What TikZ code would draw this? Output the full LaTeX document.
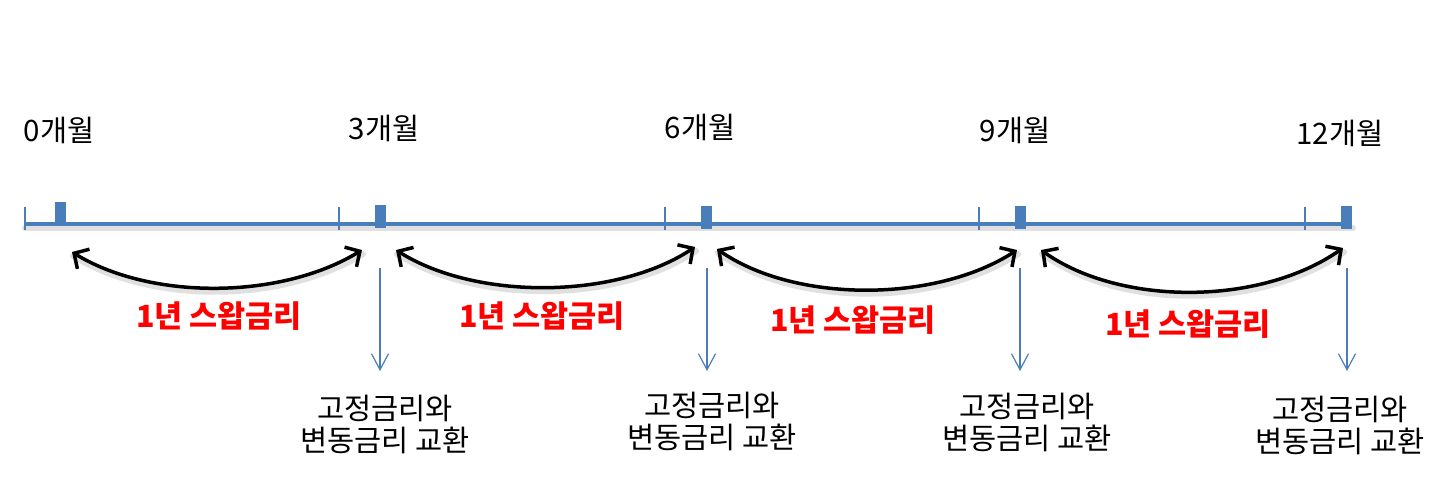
\documentclass[tikz,border=0pt]{standalone}
\usepackage{fontspec}
\setmainfont{Noto Sans CJK KR}
\usetikzlibrary{arrows.meta}
\definecolor{barblue}{HTML}{4A7EBB}
\definecolor{swapred}{HTML}{FF0000}
\tikzset{
  bar/.style={draw=barblue, line width=4.5pt},
  tick/.style={draw=barblue, line width=1.2pt},
  marker/.style={fill=barblue, draw=none, minimum width=11pt, minimum height=23pt, inner sep=0pt},
  swaparrow/.style={draw=black, line width=3.5pt, line cap=round, {Straight Barb[length=11pt,width=23pt,line width=3.5pt]}-{Straight Barb[length=11pt,width=23pt,line width=3.5pt]}},
  shadowpath/.style={draw=black, opacity=0.12, line width=6pt, line cap=round, transform canvas={shift={(1pt,-4pt)}}},
  downarrow/.style={draw=barblue, line width=1.2pt, -{Straight Barb[length=16pt,width=17pt,line width=1.2pt]}},
  month/.style={font=\fontsize{29.5}{34}\selectfont, inner sep=0pt},
  swaplabel/.style={font=\fontsize{30.5}{34}\selectfont\bfseries, text=swapred, inner sep=0pt},
  exch/.style={font=\fontsize{29.5}{32}\selectfont, align=center, inner sep=0pt},
}
\begin{document}
\begin{tikzpicture}[x=1pt,y=-1pt]
\useasboundingbox (0,0) rectangle (1446,478);
% bar
\coordinate (barL) at (24,224);
\coordinate (barR) at (1352,224);
\draw[shadowpath] (barL) -- (barR);
\draw[bar] (barL) -- (barR);
% ticks
\foreach \x/\n in {25/t0,339/t1,665/t2,979/t3,1305/t4}{
  \coordinate (\n a) at (\x,207);
  \coordinate (\n b) at (\x,230);
  \draw[tick] (\n a) -- (\n b);
}
% markers
\node[marker] (m0) at (60,213.5) {};
\node[marker] (m3) at (380,217) {};
\node[marker] (m6) at (706,217.5) {};
\node[marker] (m9) at (1020,217.5) {};
\node[marker] (m12) at (1346,217.5) {};
% month labels
\node[month] (l0) at (59,130) {0개월};
\node[month] (l3) at (384,128) {3개월};
\node[month] (l6) at (700,127) {6개월};
\node[month] (l9) at (1015,130) {9개월};
\node[month] (l12) at (1340,133) {12개월};
% swap arrows
\coordinate (a1s) at (72,252); \coordinate (a1e) at (362,250);
\coordinate (a2s) at (396,250); \coordinate (a2e) at (695,247);
\coordinate (a3s) at (717,249); \coordinate (a3e) at (1017,250);
\coordinate (a4s) at (1041,250); \coordinate (a4e) at (1343,248);
\draw[shadowpath] (a1s) .. controls (150,300) and (280,300) .. (a1e);
\draw[shadowpath] (a2s) .. controls (475,300) and (615,300) .. (a2e);
\draw[shadowpath] (a3s) .. controls (795,303) and (935,303) .. (a3e);
\draw[shadowpath] (a4s) .. controls (1120,306) and (1260,306) .. (a4e);
\draw[swaparrow] (a1s) .. controls (150,300) and (280,300) .. (a1e);
\draw[swaparrow] (a2s) .. controls (475,300) and (615,300) .. (a2e);
\draw[swaparrow] (a3s) .. controls (795,303) and (935,303) .. (a3e);
\draw[swaparrow] (a4s) .. controls (1120,306) and (1260,306) .. (a4e);
% swap labels
\node[swaplabel] (s1) at (219,316) {1년 스왑금리};
\node[swaplabel] (s2) at (542,316) {1년 스왑금리};
\node[swaplabel] (s3) at (853,320) {1년 스왑금리};
\node[swaplabel] (s4) at (1188,324) {1년 스왑금리};
% down arrows
\foreach \x/\n in {380/d1,707/d2,1020/d3,1347/d4}{
  \coordinate (\n a) at (\x,268);
  \coordinate (\n b) at (\x,371);
  \draw[downarrow] (\n a) -- (\n b);
}
% exchange texts
\node[exch] (e1) at (385,424) {고정금리와\\변동금리 교환};
\node[exch] (e2) at (712,421) {고정금리와\\변동금리 교환};
\node[exch] (e3) at (1027,422) {고정금리와\\변동금리 교환};
\node[exch] (e4) at (1340,425) {고정금리와\\변동금리 교환};
\end{tikzpicture}
\end{document}
